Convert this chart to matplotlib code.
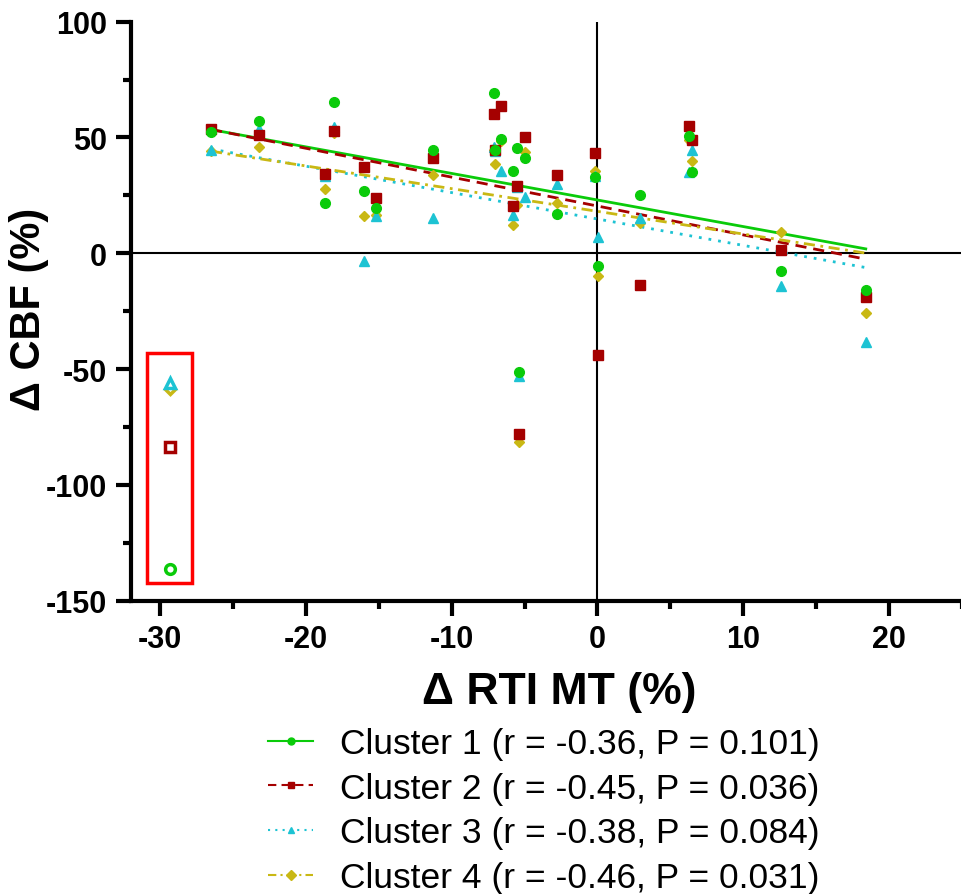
import numpy as np
import matplotlib
matplotlib.use("Agg")
import matplotlib.pyplot as plt
from matplotlib.patches import Rectangle
from matplotlib.ticker import MultipleLocator

plt.rcParams['font.family'] = ['Liberation Sans', 'DejaVu Sans']
plt.rcParams['axes.unicode_minus'] = False

# delta RTI MT (%) per subject
rti = [-26.5, -23.2, -18.7, -18.1, -16.0, -15.2, -11.3, -7.1, -7.0, -6.6, -5.8,
       -5.5, -5.4, -5.0, -2.8, -0.2, 0.05, 2.9, 6.3, 6.45, 12.6, 18.4]
# delta CBF (%) per cluster
cbf_c1 = [52.5, 57.0, 21.7, 65.2, 27.0, 19.4, 44.6, 69.2, 44.6, 49.4, 35.7,
          45.3, -51.4, 41.3, 16.8, 33.0, -5.6, 25.0, 50.8, 35.2, -7.5, -15.8]
cbf_c2 = [53.8, 51.1, 34.2, 52.7, 37.1, 23.9, 41.0, 60.0, 44.8, 63.5, 20.6,
          29.2, -78.0, 50.3, 33.6, 43.2, -43.9, -13.5, 55.1, 48.8, 1.3, -18.7]
cbf_c3 = [44.6, 53.7, 33.5, 54.7, -3.2, 16.2, 15.1, 46.0, 44.0, 35.7, 16.5,
          28.5, -52.8, 24.2, 29.9, 33.5, 7.2, 15.1, 35.2, 44.6, -14.2, -38.2]
cbf_c4 = [44.0, 45.8, 27.8, 52.0, 16.1, 16.5, 33.8, 44.5, 38.6, 48.5, 12.2,
          20.8, -81.3, 43.9, 21.7, 35.7, -9.7, 13.1, 49.0, 40.0, 9.1, -25.8]

# excluded subject (open symbols, inside red box)
out_rti = -29.3
out_cbf = [-136.3, -83.8, -56.1, -58.6]

# regression lines
fit_slope = [-1.147, -1.247, -1.14, -0.98]
fit_icpt = [23.0, 20.4, 14.8, 18.1]

labels = ["Cluster 1 (r = -0.36, P = 0.101)",
          "Cluster 2 (r = -0.45, P = 0.036)",
          "Cluster 3 (r = -0.38, P = 0.084)",
          "Cluster 4 (r = -0.46, P = 0.031)"]
colors = ['#0ACB0A', '#A50000', '#1DC3D3', '#C9B814']
markers = ['o', 's', '^', 'D']
msizes = [7, 7, 7, 5]
styles = ['-', (0, (4, 2.5)), (0, (1, 2.5)), (0, (4, 2, 1, 2))]

box_x = (-30.87, -27.8)
box_y = (-142.5, -43.0)

fig = plt.figure(figsize=(9.62, 8.95), dpi=100)
ax = fig.add_axes([0.136, 0.3277, 0.864, 0.647])

ax.axhline(0, color='black', lw=1.5, zorder=1)
ax.axvline(0, color='black', lw=1.5, zorder=1)

series = [cbf_c1, cbf_c2, cbf_c3, cbf_c4]
xs = np.array(rti)
xfit = np.array([xs.min(), xs.max()])
handles = []
for i in range(4):
    z = 10 - i
    ax.plot(xs, series[i], linestyle='', marker=markers[i], ms=msizes[i],
            color=colors[i], mec=colors[i], zorder=z)
    ax.plot(xfit, fit_icpt[i] + fit_slope[i] * xfit, linestyle=styles[i],
            color=colors[i], lw=2, zorder=5)
    ax.plot([out_rti], [out_cbf[i]], linestyle='', marker=markers[i],
            ms=msizes[i], mfc='white', mec=colors[i], mew=2.5, zorder=z)
    h, = ax.plot([], [], linestyle=styles[i], color=colors[i], lw=1.5,
                 marker=markers[i], ms=5)
    handles.append(h)

ax.add_patch(Rectangle((box_x[0], box_y[0]), box_x[1] - box_x[0], box_y[1] - box_y[0],
                       fill=False, edgecolor='red', lw=2.5, zorder=12))

ax.set_xlim(-32, 25)
ax.set_ylim(-150, 100)
ax.xaxis.set_major_locator(MultipleLocator(10))
ax.xaxis.set_minor_locator(MultipleLocator(5))
ax.yaxis.set_major_locator(MultipleLocator(50))
ax.yaxis.set_minor_locator(MultipleLocator(25))
for s in ['top', 'right']:
    ax.spines[s].set_visible(False)
for s in ['left', 'bottom']:
    ax.spines[s].set_linewidth(3)
ax.tick_params(which='major', length=11, width=3, labelsize=22, pad=6)
ax.tick_params(which='minor', length=6, width=3)
for t in ax.get_xticklabels() + ax.get_yticklabels():
    t.set_fontweight('bold')

ax.set_xlabel("Δ RTI MT (%)", fontsize=32, fontweight='bold', va='center')
ax.set_ylabel("Δ CBF (%)", fontsize=30, fontweight='bold', va='center')
ax.xaxis.set_label_coords(0.515, -0.156)
ax.yaxis.set_label_coords(-0.122, 0.505)

fig.legend(handles, labels, loc='upper left', bbox_to_anchor=(0.279, 0.1866),
           frameon=False, fontsize=25.5, handlelength=1.25, handletextpad=0.78,
           labelspacing=0.33, borderpad=0, borderaxespad=0)

fig.savefig("out.png", dpi=100)
